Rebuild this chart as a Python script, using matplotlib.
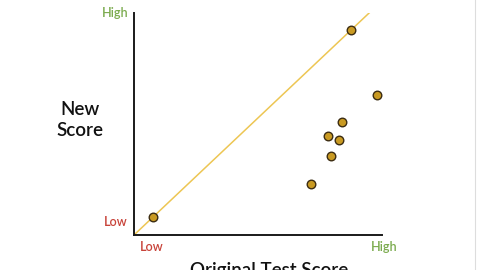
import matplotlib
matplotlib.use("Agg")
import matplotlib.pyplot as plt

plt.rcParams['font.family'] = ['Lato', 'DejaVu Sans']

# original score vs new score, 0 = low, 10 = high
orig_score = [0.77, 8.75, 9.80, 8.39, 7.82, 8.27, 7.94, 7.14]
new_score = [0.81, 9.23, 6.31, 5.09, 4.46, 4.28, 3.56, 2.30]
line_x = [0, 9.48]
line_y = [0, 10]

low_label = "Low"
high_label = "High"
red = "#c8433a"
green = "#7bab4e"

fig = plt.figure(figsize=(4.8, 2.7), dpi=100)
ax = fig.add_axes([134/480, 35/270, 248/480, 222/270])

ax.plot(line_x, line_y, color="#edc653", lw=1.1, zorder=2)
ax.scatter(orig_score, new_score, s=38, color="#c99a22", edgecolor="#3b2c12",
           linewidth=1.0, zorder=3)

ax.set_xlim(0, 10)
ax.set_ylim(0, 10)
ax.set_xticks([])
ax.set_yticks([])
for s in ["top", "right"]:
    ax.spines[s].set_visible(False)
for s in ["left", "bottom"]:
    ax.spines[s].set_linewidth(1.4)
    ax.spines[s].set_color("#1a1a1a")

# axis end labels
ax.text(-0.024, 1.0, high_label, transform=ax.transAxes, ha="right", va="center",
        color=green, fontsize=9, fontweight="semibold")
ax.text(-0.028, 0.058, low_label, transform=ax.transAxes, ha="right", va="center",
        color=red, fontsize=9, fontweight="semibold")
ax.text(0.073, -0.054, low_label, transform=ax.transAxes, ha="center", va="center",
        color=red, fontsize=9, fontweight="semibold")
ax.text(1.01, -0.054, high_label, transform=ax.transAxes, ha="center", va="center",
        color=green, fontsize=9, fontweight="semibold")

fig.text(80/480, 1 - 120/270, "New\nScore", ha="center", va="center",
         fontsize=13.5, linespacing=1.25, color="#111111", fontweight="semibold")
fig.text(269/480, -6/270, "Original Test Score", ha="center", va="baseline",
         fontsize=13.5, color="#111111", fontweight="semibold")

fig.add_artist(plt.Line2D([475/480, 475/480], [0, 1], color="#dddddd", lw=0.8))

fig.savefig("out.png", dpi=100)
